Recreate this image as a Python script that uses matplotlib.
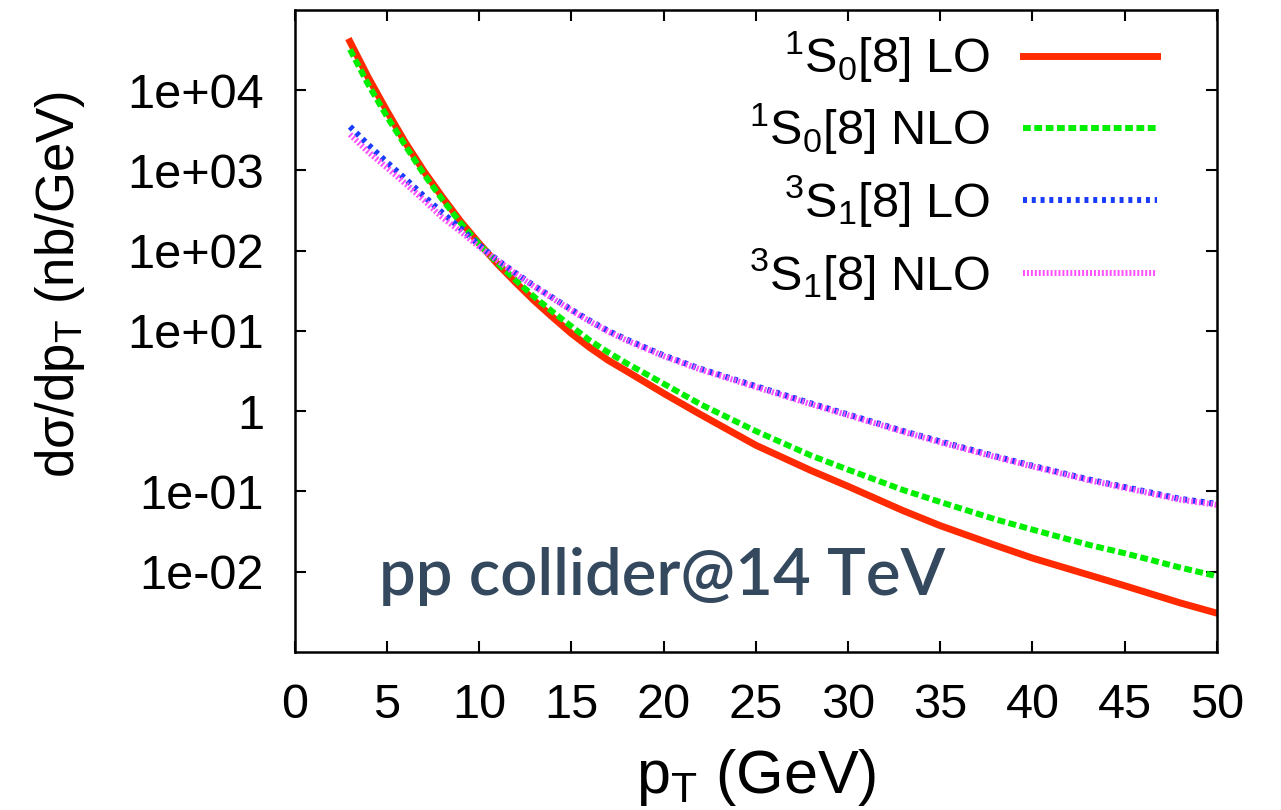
import matplotlib
matplotlib.use('Agg')
import matplotlib.pyplot as plt
from matplotlib.ticker import NullLocator

# p_T grid (GeV) and d(sigma)/dp_T (nb/GeV)
pt = [3, 4, 5, 6, 7, 8, 9, 10, 11, 12, 13, 14, 15, 16, 17, 18, 20, 22, 25,
      28, 30, 33, 35, 38, 40, 43, 45, 48, 50]

s0_lo = [4.0e4, 1.42e4, 5.5e3, 2.22e3, 980, 467, 231, 123, 68, 39.6, 23.6,
         14.7, 9.3, 6.2, 4.3, 3.15, 1.67, 0.91, 0.377, 0.182, 0.116, 0.0575,
         0.0375, 0.0213, 0.0148, 0.0092, 0.0067, 0.0041, 0.00305]
s0_nlo = [3.2e4, 1.16e4, 4.7e3, 2.03e3, 900, 435, 221, 120, 70, 42.5, 26.4,
          17.2, 11.4, 7.6, 5.4, 3.95, 2.2, 1.22, 0.565, 0.28, 0.187, 0.104,
          0.074, 0.0449, 0.0335, 0.0218, 0.017, 0.0113, 0.0088]
s1_lo = [3.5e3, 2.07e3, 1.26e3, 785, 478, 297, 189, 117, 76, 52, 36.2,
         25.8, 18.4, 13.4, 10.0, 7.8, 4.95, 3.37, 2.05, 1.25, 0.91, 0.565,
         0.42, 0.274, 0.209, 0.142, 0.1135, 0.081, 0.07]
s1_nlo = [2.8e3, 1.69e3, 1.08e3, 685, 427, 259, 173, 112, 75, 51, 35.5,
          25.3, 18.0, 13.1, 9.8, 7.6, 4.85, 3.3, 2.0, 1.22, 0.89, 0.553,
          0.41, 0.268, 0.205, 0.139, 0.111, 0.079, 0.068]

labels = [r'$\mathregular{^1S_0[8]\ LO}$', r'$\mathregular{^1S_0[8]\ NLO}$',
          r'$\mathregular{^3S_1[8]\ LO}$', r'$\mathregular{^3S_1[8]\ NLO}$']

ytick_vals = [1e-2, 1e-1, 1, 1e1, 1e2, 1e3, 1e4]
ytick_text = ['1e-02', '1e-01', '1', '1e+01', '1e+02', '1e+03', '1e+04']

plt.rcParams['font.family'] = ['Liberation Sans', 'DejaVu Sans']
plt.rcParams['mathtext.fontset'] = 'custom'
plt.rcParams['mathtext.rm'] = 'Liberation Sans'
plt.rcParams['mathtext.it'] = 'Liberation Sans:italic'

fig = plt.figure(figsize=(12.81, 8.10), dpi=100)
ax = fig.add_axes([0.230, 0.195, 0.720, 0.793])

ax.plot(pt, s0_lo, color='#ff2a00', lw=5, label=labels[0])
ax.plot(pt, s0_nlo, color='#00ee00', lw=4.3, ls=(0, (1.3, 0.6)), label=labels[1])
ax.plot(pt, s1_lo, color='#1a3cff', lw=4.3, ls=(0, (0.67, 0.8)), label=labels[2])
ax.plot(pt, s1_nlo, color='#ff50ff', lw=4.3, ls=(0, (0.33, 0.33)), label=labels[3])

ax.set_yscale('log')
ax.set_xlim(0, 50)
ax.set_ylim(1e-3, 1e5)
ax.set_xticks(range(0, 51, 5))
ax.set_yticks(ytick_vals)
ax.set_yticklabels(ytick_text)
ax.yaxis.set_minor_locator(NullLocator())
ax.xaxis.set_minor_locator(NullLocator())

ax.tick_params(direction='in', length=8, width=1.5, top=True, right=True,
               labelsize=35)
ax.tick_params(axis='x', pad=22)
ax.tick_params(axis='y', pad=22)
for s in ax.spines.values():
    s.set_linewidth(1.8)

ax.set_xlabel(r'p$_\mathregular{T}$ (GeV)', fontsize=44)
ax.set_ylabel(r'd$\mathregular{\sigma}$/dp$_\mathregular{T}$ (nb/GeV)', fontsize=38)
ax.xaxis.set_label_coords(0.5, -0.148)
ax.yaxis.set_label_coords(-0.225, 0.572)

ax.legend(loc='upper right', bbox_to_anchor=(0.935, 0.969), frameon=False,
          markerfirst=False, fontsize=35, handlelength=2.76, handletextpad=0.68,
          labelspacing=0.34, borderaxespad=0, borderpad=0)

ax.text(0.092, 0.089, 'pp collider@14 TeV', transform=ax.transAxes,
        fontsize=47, color='#34495e', family='Lato', fontweight='semibold')

plt.savefig('out.png', dpi=100)
